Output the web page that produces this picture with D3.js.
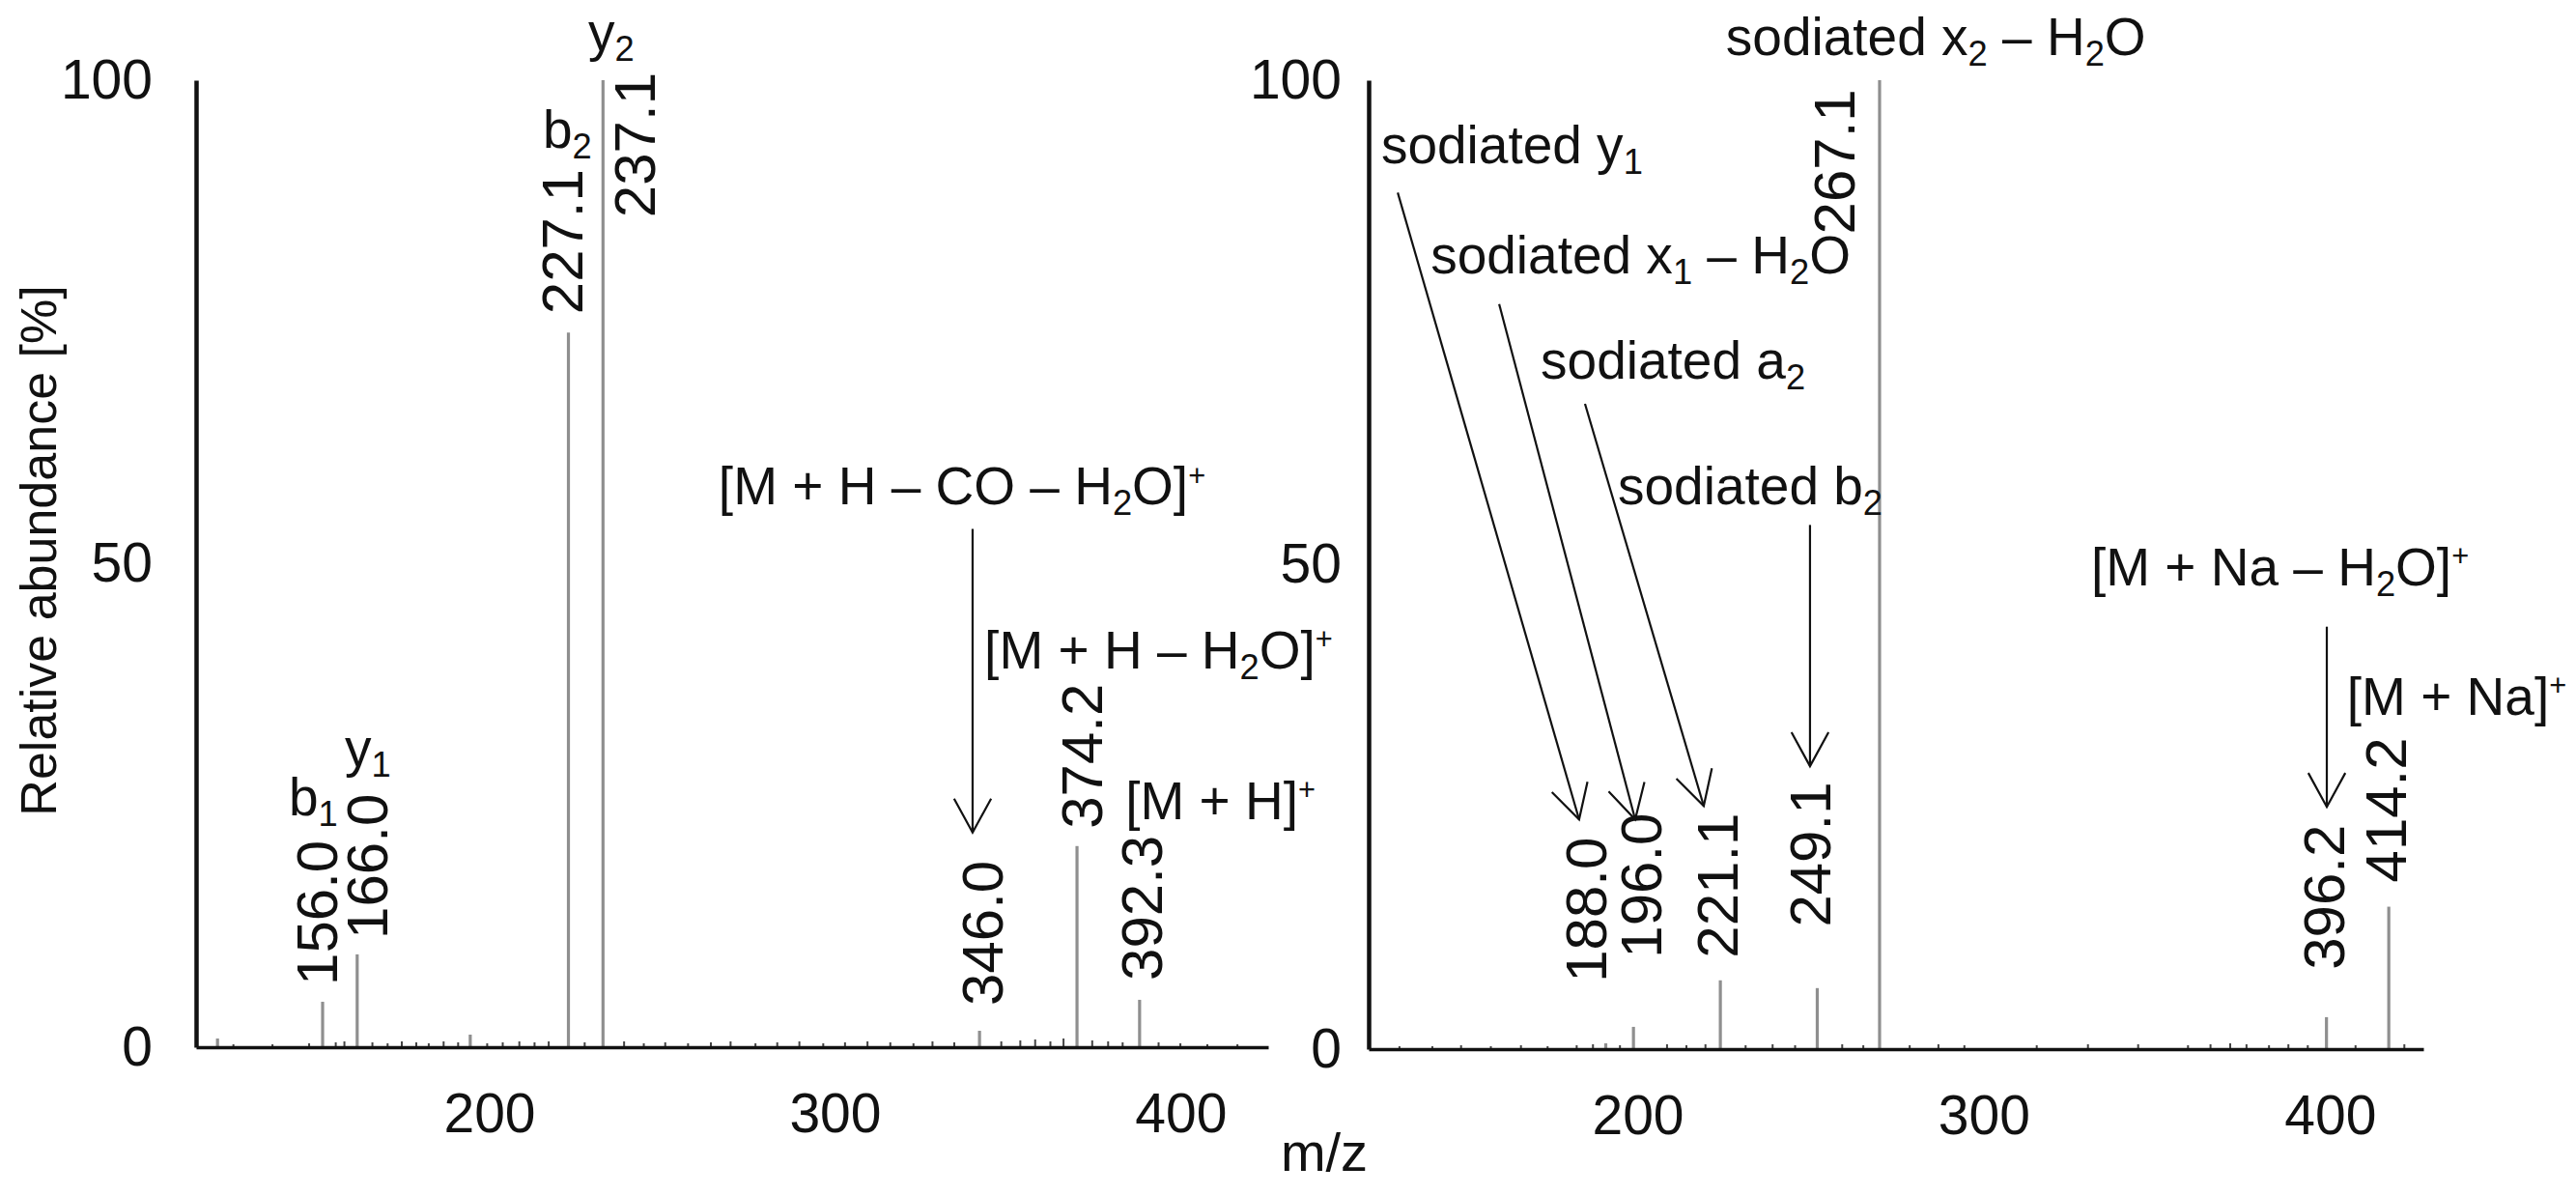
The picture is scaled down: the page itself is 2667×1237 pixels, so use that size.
<!DOCTYPE html>
<html><head><meta charset="utf-8">
<script src="https://cdn.jsdelivr.net/npm/d3@7"></script>
<style>
body{margin:0;background:#fff}
svg{display:block}
text{font-family:"Liberation Sans",Arial,sans-serif;fill:#111}
</style>
</head><body>
<svg id="c" width="2667" height="1237"></svg>
<script>
// ---------------- DATA ----------------
const yTicks = [0, 50, 100];
const xTicks = [200, 300, 400];

// Left spectrum (protonated)
const leftPeakMz  = [125.6, 156.0, 166.0, 198.7, 227.1, 237.1, 346.0, 374.2, 392.3];
const leftPeakInt = [0.9,   4.7,   9.6,   1.3,   73.9,  100,   1.7,   20.8,  4.9];
const leftNoiseMz  = [130.2,141.5,152.1,159.8,162.3,170.4,174.8,178.9,183.1,186.7,191.0,195.2,203.6,208.1,212.9,217.3,221.4,231.8,243.2,248.9,255.1,261.7,268.3,274.0,281.2,287.5,293.9,300.8,307.1,313.6,320.2,326.9,332.4,338.7,352.3,357.8,362.1,366.5,370.3,378.6,383.2,387.4,397.8,404.1,411.9,420.6];
const leftNoiseInt = [0.3,0.3,0.4,0.5,0.6,0.5,0.4,0.6,0.5,0.4,0.6,0.5,0.4,0.5,0.6,0.5,0.6,0.5,0.6,0.4,0.5,0.4,0.5,0.6,0.4,0.5,0.6,0.4,0.5,0.6,0.5,0.4,0.6,0.5,0.6,0.7,0.8,0.6,0.9,0.7,0.6,0.5,0.5,0.4,0.3,0.3];
const leftLabelMz   = [156.0, 166.0, 227.1, 237.1, 346.0, 374.2, 392.3];
const leftLabelText = ["156.0","166.0","227.1","237.1","346.0","374.2","392.3"];
const leftAnnText = ["b_1","y_1","b_2","y_2","[M + H – CO – H_2O]^+","[M + H – H_2O]^+","[M + H]^+"];

// Right spectrum (sodiated)
const rightPeakMz  = [188.0, 196.0, 221.1, 249.1, 267.1, 396.2, 414.2];
const rightPeakInt = [0.6,   2.3,   7.1,   6.3,   100,   3.3,   14.7];
const rightNoiseMz  = [128.4,137.9,146.2,154.8,163.5,171.2,179.6,184.3,192.1,205.7,211.3,216.8,228.4,236.2,242.7,256.3,262.4,275.8,284.1,291.6,312.5,327.3,341.8,356.2,362.7,368.4,373.1,379.6,385.2,390.8,404.6,418.7];
const rightNoiseInt = [0.3,0.3,0.4,0.3,0.4,0.3,0.4,0.5,0.4,0.5,0.4,0.5,0.4,0.5,0.4,0.5,0.4,0.4,0.5,0.4,0.4,0.5,0.5,0.4,0.5,0.6,0.5,0.4,0.5,0.4,0.4,0.5];
const rightLabelMz   = [188.0, 196.0, 221.1, 249.1, 267.1, 396.2, 414.2];
const rightLabelText = ["188.0","196.0","221.1","249.1","267.1","396.2","414.2"];
const rightAnnText = ["sodiated x_2 – H_2O","sodiated y_1","sodiated x_1 – H_2O","sodiated a_2","sodiated b_2","[M + Na – H_2O]^+","[M + Na]^+"];

const yTitle = "Relative abundance [%]";
const xTitle = "m/z";

// ---------------- LAYOUT (positions in data units / px) ----------------
const leftLabelPlace  = [{dx:-6,at:6.4},{dx:10,at:11.2},{dx:-7,at:75.8},{dx:32,at:85.8},{dx:2,at:4.3},{dx:4,at:22.6},{dx:2,at:6.9}];
const rightLabelPlace = [{dx:-21,at:6.9},{dx:7,at:9.4},{dx:-4,at:9.4},{dx:-8,at:12.6},{dx:-47,at:84.1},{dx:-3,at:8.2},{dx:-4,at:17.2}];
const leftAnnPlace  = [[146.2,24.0],[162.4,29.1],[219.7,93.0],[232.8,103.1],[270.5,56.1],[347.4,39.2],[388.2,23.6]];
const rightAnnPlace = [[222.7,102.6],[123.1,91.4],[137.4,80.1],[169.2,69.2],[191.5,56.2],[328.2,47.9],[402.1,34.5]];
const leftArrowPlace  = [[344.0,53.6,344.0,22.2]];
const rightArrowPlace = [[127.9,88.4,180.3,23.7],[157.2,76.9,196.5,23.7],[182.0,66.6,216.3,25.1],[247.0,54.1,247.0,29.2],[396.3,43.6,396.3,25.0]];

const F = 55;       // annotation font size
const LF = 60;      // peak label font size
const TF = 57;      // tick font size

const svg = d3.select("#c");

function richText(g, str, x, y, size) {
  const segs = [];
  let i = 0, buf = "";
  while (i < str.length) {
    const c = str[i];
    if (c === "_" || c === "^") {
      if (buf) { segs.push({t: buf, m: 0}); buf = ""; }
      segs.push({t: str[i+1], m: c === "_" ? 1 : 2});
      i += 2;
    } else { buf += c; i++; }
  }
  if (buf) segs.push({t: buf, m: 0});
  const t = g.append("text").attr("x", x).attr("y", y).attr("font-size", size);
  let cur = 0;
  segs.forEach(s => {
    const target = s.m === 1 ? 0.2 * size : s.m === 2 ? -0.36 * size : 0;
    t.append("tspan")
      .attr("dy", target - cur)
      .attr("font-size", s.m === 0 ? size : (s.m === 1 ? 0.66 * size : 0.56 * size))
      .text(s.t);
    cur = target;
  });
  return t;
}

function arrow(g, x1, y1, x2, y2) {
  g.append("line").attr("x1", x1).attr("y1", y1).attr("x2", x2).attr("y2", y2)
    .attr("stroke", "#111").attr("stroke-width", 2.2);
  const a = Math.atan2(y2 - y1, x2 - x1), L = 40, h = 0.5;
  const pts = [[x2 - L * Math.cos(a - h), y2 - L * Math.sin(a - h)], [x2, y2], [x2 - L * Math.cos(a + h), y2 - L * Math.sin(a + h)]];
  g.append("path").attr("d", d3.line()(pts)).attr("fill", "none")
    .attr("stroke", "#111").attr("stroke-width", 2.2);
}

const panels = [
  {xr:[203,1313], xd:[119.4,429.5], yr:[1084,83], pad:45, tdx:15,
   pm:leftPeakMz, pi:leftPeakInt, nm:leftNoiseMz, ni:leftNoiseInt,
   lm:leftLabelMz, lt:leftLabelText, lp:leftLabelPlace,
   at:leftAnnText, ap:leftAnnPlace, ar:leftArrowPlace},
  {xr:[1417,2509], xd:[119.5,424.2], yr:[1086,83], pad:28, tdx:-10,
   pm:rightPeakMz, pi:rightPeakInt, nm:rightNoiseMz, ni:rightNoiseInt,
   lm:rightLabelMz, lt:rightLabelText, lp:rightLabelPlace,
   at:rightAnnText, ap:rightAnnPlace, ar:rightArrowPlace}
];

panels.forEach(p => {
  const x = d3.scaleLinear().domain(p.xd).range(p.xr);
  const y = d3.scaleLinear().domain([0, 100]).range(p.yr);
  const g = svg.append("g");

  // noise
  g.selectAll("line.noise").data(p.nm).join("line").attr("class", "noise")
    .attr("x1", d => x(d)).attr("x2", d => x(d))
    .attr("y1", y(0)).attr("y2", (d, i) => y(p.ni[i]))
    .attr("stroke", "#444").attr("stroke-width", 2);

  // peaks
  g.selectAll("line.peak").data(p.pm).join("line").attr("class", "peak")
    .attr("x1", d => x(d)).attr("x2", d => x(d))
    .attr("y1", y(0)).attr("y2", (d, i) => y(p.pi[i]))
    .attr("stroke", "#8f8f8f").attr("stroke-width", 3.2);

  // axes
  const xa = g.append("g").attr("transform", `translate(0,${p.yr[0]})`)
    .call(d3.axisBottom(x).tickValues(xTicks).tickSize(0).tickPadding(48).tickFormat(d3.format("d")));
  xa.select(".domain").attr("stroke", "#111").attr("stroke-width", 3.5);
  xa.selectAll("text").attr("font-size", TF).attr("dx", p.tdx)
    .attr("font-family", '"Liberation Sans",Arial,sans-serif').attr("fill", "#111");

  const ya = g.append("g").attr("transform", `translate(${p.xr[0]},0)`)
    .call(d3.axisLeft(y).tickValues(yTicks).tickSize(0).tickPadding(p.pad));
  ya.select(".domain").attr("stroke", "#111").attr("stroke-width", 4.5);
  ya.selectAll("text").attr("font-size", TF)
    .attr("font-family", '"Liberation Sans",Arial,sans-serif').attr("fill", "#111");

  // rotated peak labels
  p.lm.forEach((m, i) => {
    const pl = p.lp[i];
    const cx = x(m) + pl.dx + 0.716 * LF / 2;
    g.append("text").attr("font-size", LF)
      .attr("transform", `translate(${cx},${y(pl.at)}) rotate(-90)`)
      .text(p.lt[i]);
  });

  // annotations
  p.at.forEach((s, i) => richText(g, s, x(p.ap[i][0]), y(p.ap[i][1]), F));
  p.ar.forEach(a => arrow(g, x(a[0]), y(a[1]), x(a[2]), y(a[3])));
});

// axis titles
svg.append("text").attr("font-size", 52).attr("text-anchor", "middle")
  .attr("transform", "translate(58,570) rotate(-90)").text(yTitle);
svg.append("text").attr("font-size", 56).attr("text-anchor", "middle")
  .attr("x", 1371).attr("y", 1212).text(xTitle);
</script>
</body></html>
